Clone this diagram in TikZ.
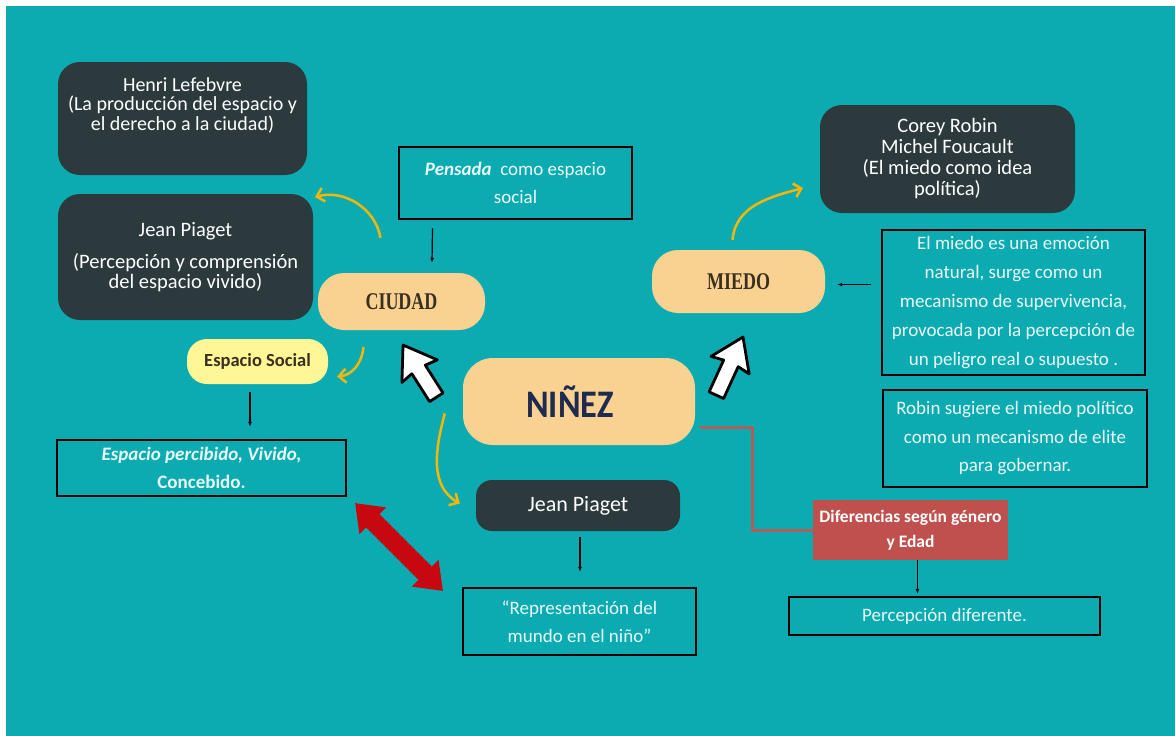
\documentclass[tikz,border=0pt]{standalone}
\usepackage{fontspec}
\setmainfont{Carlito}
\newfontfamily\ciudadfont[FakeStretch=0.75]{Liberation Serif}
\newfontfamily\ninezfont[FakeStretch=0.88]{Carlito}
\usetikzlibrary{positioning, shapes, arrows.meta, calc}

\definecolor{fondo}{RGB}{12,171,178}
\definecolor{oscuro}{RGB}{44,58,61}
\definecolor{durazno}{RGB}{249,210,145}
\definecolor{crema}{RGB}{255,246,150}
\definecolor{rojizo}{RGB}{192,80,77}
\definecolor{ladrillo}{RGB}{178,94,88}
\definecolor{amarillo}{RGB}{243,183,8}
\definecolor{rojo}{RGB}{200,8,16}
\definecolor{claro}{RGB}{232,248,248}
\definecolor{marino}{RGB}{30,42,80}
\definecolor{cafe}{RGB}{58,48,32}

\begin{document}
\begin{tikzpicture}[x=1pt, y=-1pt,
    darkbox/.style={fill=oscuro, rounded corners=22, text=white, align=center, inner sep=0},
    peachbox/.style={fill=durazno, rounded corners=26, inner sep=0},
    tealbox/.style={draw=black, line width=2.5, text=claro, align=center, inner sep=0,
        font=\fontsize{19}{28.5}\selectfont},
    link/.style={-{Latex[length=5pt,width=4pt]}, line width=1.2, black},
    yarrow/.style={-{Straight Barb[length=7pt,width=14pt]}, line width=2.5, amarillo},
    cursor/.style={fill=white, draw=black, line width=2.8, line join=round}]

    % Fondo
    \useasboundingbox (0,0) rectangle (1175,736);
    \fill[white] (0,0) rectangle (1175,736);
    \fill[fondo] (6,6) rectangle (1175,736);

    % Autores (cajas oscuras)
    \node[darkbox, minimum width=249, minimum height=113, font=\fontsize{20}{19.5}\selectfont]
        (lefebvre) at (182.5,118.5) {Henri Lefebvre\\(La producción del espacio y\\el derecho a la ciudad)\\[10pt]\mbox{}};
    \node[darkbox, minimum width=255, minimum height=126, font=\fontsize{20.5}{20}\selectfont]
        (piaget) at (185.5,257) {Jean Piaget\\[12pt](Percepción y comprensión\\del espacio vivido)};
    \node[darkbox, minimum width=255, minimum height=108, font=\fontsize{20.5}{21}\selectfont]
        (corey) at (947.5,159) {Corey Robin\\Michel Foucault\\(El miedo como idea\\política)};
    \node[darkbox, rounded corners=16, minimum width=204, minimum height=51, font=\fontsize{22}{24}\selectfont]
        (jean) at (578,505.5) {Jean Piaget};

    % Conceptos
    \node[peachbox, minimum width=232, minimum height=87, rounded corners=30, text=marino,
        font=\ninezfont\bfseries\fontsize{39}{40}\selectfont] (ninez) at (579,401.5) {NIÑEZ\hspace*{18pt}};
    \node[peachbox, minimum width=167, minimum height=57, text=cafe,
        font=\ciudadfont\bfseries\fontsize{24}{26}\selectfont] (ciudad) at (401.5,301.5) {CIUDAD};
    \node[peachbox, minimum width=173, minimum height=63, text=cafe,
        font=\ciudadfont\bfseries\fontsize{24}{26}\selectfont] (miedo) at (738.5,281.5) {MIEDO};
    \node[fill=crema, rounded corners=20, inner sep=0, minimum width=141, minimum height=45, text=cafe,
        font=\bfseries\fontsize{18.5}{20}\selectfont] (social) at (257.5,361.5) {Espacio Social};
    \node[fill=rojizo, inner sep=0, minimum width=195, minimum height=60, text=white, align=center,
        font=\bfseries\fontsize{17.5}{25}\selectfont] (dif) at (910.5,530) {Diferencias según género\\y Edad};

    % Cajas de texto
    \node[tealbox, minimum width=233, minimum height=72] (pensada) at (515.5,183)
        {\textbf{\textit{Pensada}}\ \ como espacio\\social};
    \node[tealbox, minimum width=289, minimum height=56, font=\bfseries\fontsize{19}{28}\selectfont]
        (percibido) at (201.5,468) {\textit{Espacio percibido, Vivido,}\\Concebido.};
    \node[tealbox, minimum width=233, minimum height=67] (repre) at (579.5,621.5)
        {``Representación del\\mundo en el niño''};
    \node[tealbox, minimum width=263, minimum height=145, font=\fontsize{19}{29}\selectfont]
        (miedotxt) at (1013.5,302.5) {El miedo es una emoción\\natural, surge como un\\mecanismo de supervivencia,\\provocada por la percepción de\\un peligro real o supuesto .};
    \node[tealbox, minimum width=264, minimum height=97] (robin) at (1015,438.5)
        {Robin sugiere el miedo político\\como un mecanismo de elite\\para gobernar.};
    \node[tealbox, minimum width=311, minimum height=38] (percep) at (944.5,616) {Percepción diferente.};

    % Flechas negras
    \draw[link] ($(pensada.south)+(-83,8)$) -- ($(ciudad.north)+(30.5,-10)$);
    \draw[link] ($(social.south)+(-7.5,8)$) -- ($(percibido.north)+(48.5,-12)$);
    \draw[link] ($(miedotxt.west |- miedo.east)+(-10,3)$) -- ($(miedo.east)+(12,3)$);
    \draw[link] ($(jean.south)+(2,6)$) -- ($(jean.south |- repre.north)+(2,-15)$);
    \draw[link] ($(dif.south)+(7,0)$) -- ($(dif.south |- percep.north)+(7,-2)$);

    % Conector hacia diferencias
    \draw[ladrillo, line width=3] ($(ninez.east)+(5,26)$) -- ($(ninez.east)+(57,26)$) |- (dif.west);

    % Flechas amarillas
    \coordinate (hacia autores) at (315,197);
    \coordinate (hacia corey) at (803,188);
    \draw[yarrow] ($(ciudad.north)+(-21,-35)$) to[out=100, in=15] (hacia autores);
    \draw[yarrow] ($(ciudad.south)+(-38,17)$) to[out=-95, in=5] ($(social.east)+(9,15)$);
    \draw[yarrow] ($(ninez.west)+(-18,12)$) to[out=-105, in=150] ($(jean.west)+(-16,-2)$);
    \draw[yarrow] ($(miedo.north)+(-6,-10)$) to[out=85, in=195] (hacia corey);

    % Cursores blancos
    \begin{scope}[shift={(403,345)}, rotate=122.5]
        \draw[cursor] (0,0) -- (-31,21) -- (-29,8) -- (-62,8) -- (-62,-8) -- (-29,-8) -- (-31,-21) -- cycle;
    \end{scope}
    \begin{scope}[shift={(743,337)}, rotate=65.4]
        \draw[cursor] (0,0) -- (-31,21) -- (-29,8) -- (-64,8) -- (-64,-8) -- (-29,-8) -- (-31,-21) -- cycle;
    \end{scope}

    % Flecha doble roja
    \begin{scope}[shift={(399,547)}, rotate=-45]
        \fill[rojo] (62,0) -- (37,19) -- (37,9.5) -- (-37,9.5) -- (-37,19) -- (-62,0)
            -- (-37,-19) -- (-37,-9.5) -- (37,-9.5) -- (37,-19) -- cycle;
    \end{scope}
\end{tikzpicture}
\end{document}
